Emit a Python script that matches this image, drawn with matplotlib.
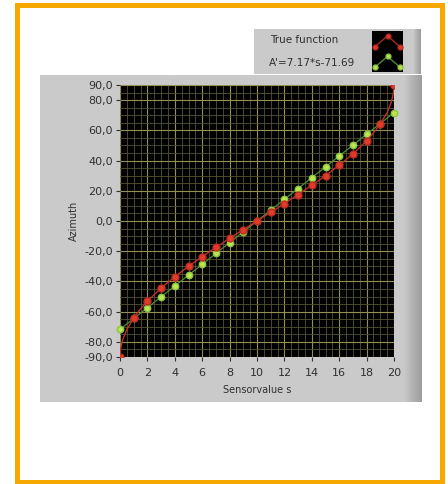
import numpy as np
import matplotlib
matplotlib.use("Agg")
import matplotlib.pyplot as plt
from matplotlib.patches import Rectangle
from matplotlib.ticker import MultipleLocator, FixedLocator, FuncFormatter

# data
sensor = list(range(0, 21))
true_pts = [-90.0, -64.2, -53.1, -44.4, -36.9, -30.0, -23.6, -17.5, -11.5, -5.7, 0.0,
            5.7, 11.5, 17.5, 23.6, 30.0, 36.9, 44.4, 53.1, 64.2, 90.0]
curve_s = [0, 0.05, 0.2, 0.5, 1, 1.5, 2, 3, 4, 5, 6, 7, 8, 9, 10,
           11, 12, 13, 14, 15, 16, 17, 18, 18.5, 19, 19.5, 19.8, 19.95, 20]
curve_a = [-90.0, -84.3, -78.5, -71.8, -64.2, -58.2, -53.1, -44.4, -36.9, -30.0, -23.6,
           -17.5, -11.5, -5.7, 0.0, 5.7, 11.5, 17.5, 23.6, 30.0, 36.9, 44.4, 53.1,
           58.2, 64.2, 71.8, 78.5, 84.3, 90.0]
fit_pts = [-71.7, -64.5, -57.4, -50.2, -43.0, -35.8, -28.7, -21.5, -14.3, -7.2, 0.0,
           7.2, 14.3, 21.5, 28.7, 35.8, 43.0, 50.2, 57.4, 64.5, 71.7]
y_ticks = [-90, -80, -60, -40, -20, 0, 20, 40, 60, 80, 90]
x_ticks = list(range(0, 21, 2))
labels = ["True function", "A'=7.17*s-71.69"]

RED = "#e03c2c"
GREEN = "#b8e64e"
TXT = "#303030"
W, H = 448, 484

def fx(px):
    return px / W

def fy(py):
    return 1 - py / H

fig = plt.figure(figsize=(W / 100, H / 100), dpi=100)
fig.patch.set_facecolor("white")

# orange frame
fig.add_artist(Rectangle((fx(16.5), fy(481.5)), fx(425), 477 / H, transform=fig.transFigure,
                         fill=False, edgecolor="#f6a800", linewidth=3.6))

# grey panel with darker right edge
def gray_box(x0, y0, x1, y1, z):
    ax = fig.add_axes([fx(x0), fy(y1), fx(x1 - x0), (y1 - y0) / H], zorder=z)
    g = np.full(200, 0.79)
    g[-10:] = np.linspace(0.79, 0.62, 10)
    ax.imshow(g[None, :], aspect="auto", cmap="gray", vmin=0, vmax=1, extent=[0, 1, 0, 1])
    ax.set_axis_off()
    return ax

gray_box(40, 75, 421, 402, 0)
gray_box(254, 29, 421, 74, 0)

fig.text(fx(270), fy(40), labels[0], fontsize=7.5, color=TXT, va="center", zorder=3)
fig.text(fx(269), fy(63), labels[1], fontsize=7.5, color=TXT, va="center", zorder=3)

# legend swatch
sw = fig.add_axes([fx(372), fy(72), fx(31), 41 / H], zorder=3)
sw.set_facecolor("black")
sw.plot([0.1, 0.5, 0.9], [0.62, 0.88, 0.62], color="#a82a22", lw=1, marker="o", ms=3.5,
        markerfacecolor=RED, markeredgecolor="#b02a20")
sw.plot([0.1, 0.5, 0.9], [0.12, 0.38, 0.12], color="#4e8a30", lw=1, marker="o", ms=3.5,
        markerfacecolor=GREEN, markeredgecolor="#90c040")
sw.set_xlim(0, 1)
sw.set_ylim(0, 1)
sw.set_xticks([])
sw.set_yticks([])
for s in sw.spines.values():
    s.set_visible(False)

# main plot
ax = fig.add_axes([fx(120), fy(357), fx(274), 272 / H], zorder=2)
ax.set_facecolor("black")
ax.plot(sensor, fit_pts, color="#4e8e30", lw=0.9, marker="o", ms=4.6,
        markerfacecolor=GREEN, markeredgecolor="#90c444", zorder=3, clip_on=False)
ax.plot(curve_s, curve_a, color="#c03026", lw=1, zorder=4)
ax.plot(sensor, true_pts, ls="none", marker="o", ms=5,
        markerfacecolor=RED, markeredgecolor="#bb2c20", zorder=4)
ax.set_xlim(0, 20)
ax.set_ylim(-90, 90)

ax.xaxis.set_major_locator(FixedLocator(x_ticks))
ax.xaxis.set_minor_locator(MultipleLocator(0.5))
ax.yaxis.set_major_locator(FixedLocator(y_ticks))
ax.yaxis.set_minor_locator(MultipleLocator(5))
ax.yaxis.set_major_formatter(FuncFormatter(lambda v, p: ("%.1f" % v).replace(".", ",")))

ax.grid(which="major", color="#948f52", lw=0.8)
ax.grid(which="minor", color="#55532f", lw=0.6)
ax.set_axisbelow(True)
ax.tick_params(which="major", length=3, width=0.8, color="#333333", labelsize=8,
               labelcolor=TXT, pad=2)
ax.tick_params(axis="x", which="major", pad=5)
ax.tick_params(which="minor", length=0)
for s in ax.spines.values():
    s.set_visible(False)

ax.set_xlabel("Sensorvalue s", fontsize=7, color=TXT, labelpad=5)
ax.set_ylabel("Azimuth", fontsize=7, color=TXT, labelpad=4)

fig.savefig("out.png", dpi=100)
